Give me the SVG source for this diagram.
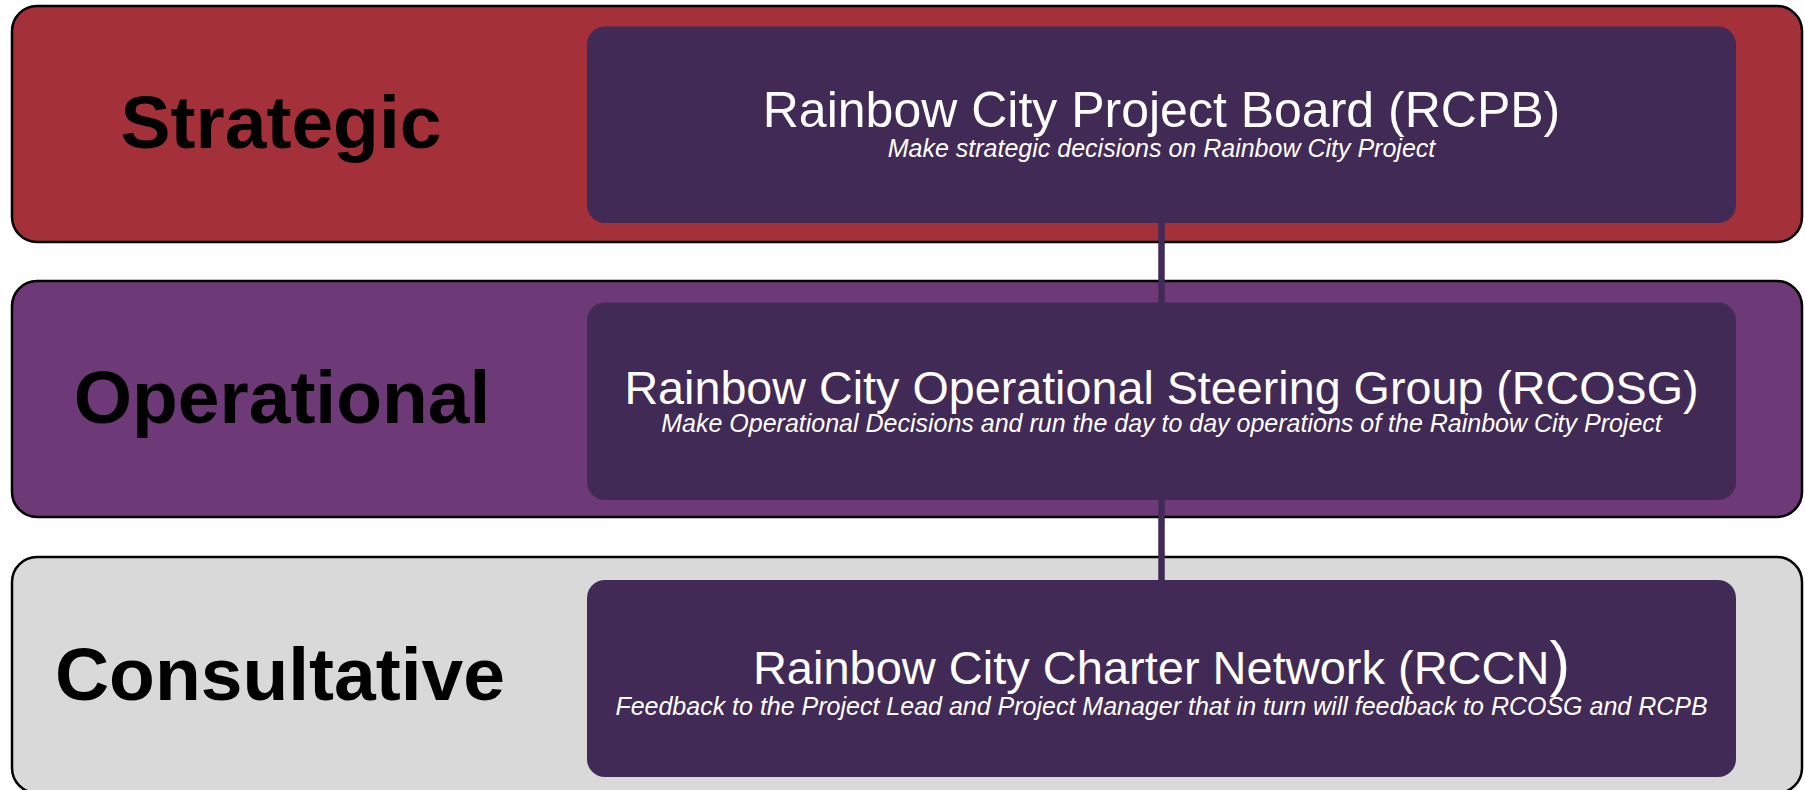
<svg xmlns="http://www.w3.org/2000/svg" width="1805" height="790" viewBox="0 0 1805 790">
<style>
.band{stroke:#000;stroke-width:2.5}
.box{fill:#412B56}
.lbl{font-family:"Liberation Sans",Arial,sans-serif;font-weight:bold;font-size:75px;fill:#000;text-anchor:middle}
.ttl{font-family:"Liberation Sans",Arial,sans-serif;fill:#fff;text-anchor:middle}
.sub{font-family:"Liberation Sans",Arial,sans-serif;font-style:italic;font-size:25px;fill:#fff;text-anchor:middle}
.conn{stroke:#412B56;stroke-width:6.5;fill:none}
</style>
<rect width="1805" height="790" fill="#fff"/>
<g id="lane-strategic">
<rect class="band" x="12" y="6" width="1790" height="236" rx="25" fill="#A4303A"/>
<text class="lbl" x="281" y="148">Strategic</text>
</g>
<g id="lane-operational">
<rect class="band" x="12" y="281" width="1790" height="236" rx="25" fill="#6D3A77"/>
<text class="lbl" x="282" y="423">Operational</text>
</g>
<g id="lane-consultative">
<rect class="band" x="12" y="557" width="1790" height="236" rx="25" fill="#D9D9D9"/>
<text class="lbl" x="280" y="700">Consultative</text>
</g>
<g id="connectors">
<line class="conn" x1="1161.5" y1="222" x2="1161.5" y2="304"/>
<line class="conn" x1="1161.5" y1="499" x2="1161.5" y2="581"/>
</g>
<g id="node-rcpb">
<rect class="box" x="587" y="26.5" width="1149" height="196.5" rx="18"/>
<text class="ttl" x="1161.5" y="127" font-size="50">Rainbow City Project Board (RCPB)</text>
<text class="sub" x="1161.5" y="157">Make strategic decisions on Rainbow City Project</text>
</g>
<g id="node-rcosg">
<rect class="box" x="587" y="302.5" width="1149" height="197.5" rx="18"/>
<text class="ttl" x="1161.5" y="404" font-size="46.7">Rainbow City Operational Steering Group (RCOSG)</text>
<text class="sub" x="1161.5" y="432">Make Operational Decisions and run the day to day operations of the Rainbow City Project</text>
</g>
<g id="node-rccn">
<rect class="box" x="587" y="580" width="1149" height="197" rx="18"/>
<text class="ttl" x="1161.5" y="684" font-size="47">Rainbow City Charter Network (RCCN<tspan font-size="62">)</tspan></text>
<text class="sub" x="1161.5" y="715">Feedback to the Project Lead and Project Manager that in turn will feedback to RCOSG and RCPB</text>
</g>
</svg>
